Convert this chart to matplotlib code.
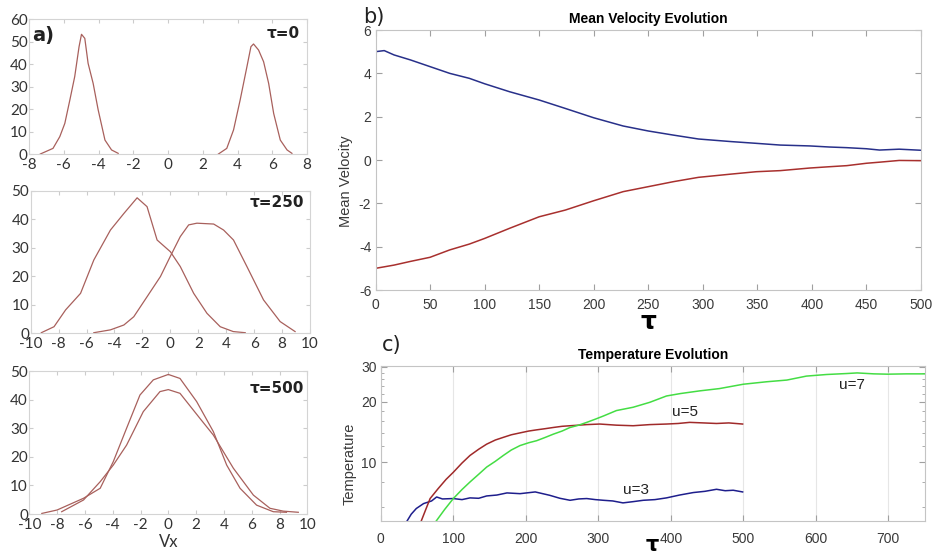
import matplotlib
matplotlib.use("Agg")
import matplotlib.pyplot as plt
import numpy as np
from matplotlib.ticker import FixedLocator, NullFormatter

plt.rcParams['axes.unicode_minus'] = False

# ---- panel a: velocity distributions ----
a1_left_x = [-7.35, -6.62, -6.23, -5.94, -5.65, -5.37, -5.12, -4.98, -4.79, -4.6, -4.31, -4.02, -3.63, -3.25, -2.87]
a1_left_y = [0, 2.5, 7.7, 13.6, 24, 34.4, 47.7, 53.2, 51.4, 40.3, 31.4, 19.6, 6.2, 1.8, 0.3]
a1_right_x = [2.9, 3.38, 3.77, 4.15, 4.54, 4.77, 4.92, 5.21, 5.5, 5.79, 6.08, 6.46, 6.85, 7.13]
a1_right_y = [0, 2.5, 10.7, 24, 38.8, 47.7, 48.9, 46.2, 41, 31.4, 18, 6.2, 1.8, 0.3]

a2_left_x = [-9.24, -8.33, -7.5, -6.43, -5.48, -4.29, -3.33, -2.38, -1.67, -0.95, 0, 0.71, 1.67, 2.62, 3.57, 4.5, 5.36]
a2_left_y = [0.2, 2.3, 8.2, 14, 25.7, 36.2, 42, 47.5, 44.4, 32.7, 28.6, 23.4, 14, 7, 2.3, 0.6, 0.2]
a2_right_x = [-5.48, -4.29, -3.33, -2.62, -1.67, -0.71, 0, 0.71, 1.31, 1.9, 3.1, 3.81, 4.52, 5.48, 6.67, 7.86, 8.93]
a2_right_y = [0.2, 1.2, 2.9, 5.8, 12.8, 19.9, 27, 33.9, 38, 38.6, 38.3, 36.2, 32.7, 23.4, 11.7, 4.1, 0.6]

a3_up_x = [-9.1, -8.0, -6.1, -4.9, -3.96, -3.0, -2.04, -1.08, 0, 0.84, 2.04, 3.24, 4.2, 5.16, 6.35, 7.55, 8.5]
a3_up_y = [0.2, 1.4, 5.5, 9, 18.3, 30, 41.6, 46.9, 48.8, 47.4, 39.3, 28.8, 17.1, 9, 3.1, 0.8, 0.6]
a3_low_x = [-7.67, -6.1, -4.9, -3.96, -3.0, -1.8, -0.6, 0, 0.84, 2.28, 3.24, 4.68, 6.12, 7.31, 8.27, 9.35]
a3_low_y = [0.8, 4.9, 11.3, 17.1, 24.1, 35.8, 42.8, 43.5, 42.2, 33.4, 27.6, 16, 6.6, 2, 1, 0.6]

# ---- panel b: mean velocity ----
b_tau = [0, 8, 17, 32, 50, 68, 86, 100, 123, 150, 174, 200, 227, 250, 273, 296, 326, 349, 371, 398, 416, 432, 450, 462, 480, 500]
b_blue = [5.0, 5.05, 4.85, 4.62, 4.31, 4.0, 3.77, 3.52, 3.15, 2.77, 2.38, 1.95, 1.57, 1.34, 1.15, 0.97, 0.85, 0.77, 0.69, 0.65, 0.6, 0.57, 0.52, 0.46, 0.5, 0.45]
b_red = [-5.0, -4.93, -4.85, -4.68, -4.49, -4.15, -3.88, -3.62, -3.15, -2.62, -2.31, -1.88, -1.46, -1.23, -1.0, -0.8, -0.65, -0.54, -0.49, -0.37, -0.31, -0.26, -0.15, -0.1, -0.02, -0.03]

# ---- panel c: temperature ----
c3_tau = [35, 42, 49, 59, 70, 77, 85, 100, 112, 123, 135, 146, 160, 174, 192, 213, 233, 247, 261, 273,
          284, 296, 307, 320, 334, 348, 362, 378, 394, 412, 431, 447, 463, 475, 486, 499]
c3 = [5.0, 5.5, 5.87, 6.21, 6.4, 6.7, 6.55, 6.58, 6.5, 6.63, 6.6, 6.78, 6.85, 7.02, 6.96, 7.1, 6.83, 6.6, 6.45, 6.55,
      6.58, 6.5, 6.45, 6.4, 6.26, 6.35, 6.45, 6.5, 6.63, 6.85, 7.05, 7.15, 7.32, 7.2, 7.24, 7.1]
c5_tau = [55, 62, 68, 79, 90, 100, 112, 123, 135, 146, 158, 169, 180, 192, 204, 215, 227, 238, 250, 261,
          273, 284, 302, 325, 348, 371, 394, 410, 426, 445, 463, 480, 499]
c5 = [5.0, 5.8, 6.58, 7.37, 8.2, 8.9, 9.9, 10.8, 11.6, 12.3, 12.9, 13.3, 13.7, 14.0, 14.3, 14.5, 14.7, 14.9, 15.1, 15.2,
      15.3, 15.4, 15.5, 15.3, 15.2, 15.4, 15.5, 15.6, 15.8, 15.7, 15.6, 15.7, 15.5]
c7_tau = [75, 88, 100, 112, 123, 135, 146, 158, 169, 180, 192, 204, 215, 227, 238, 250, 261, 273, 284, 296,
          307, 325, 348, 371, 394, 413, 440, 467, 500, 532, 560, 587, 615, 642, 657, 680, 699, 725, 750]
c7 = [5.0, 5.8, 6.58, 7.3, 7.96, 8.7, 9.45, 10.1, 10.8, 11.5, 12.1, 12.5, 12.8, 13.3, 13.8, 14.3, 14.9, 15.3, 15.8, 16.4,
      17.0, 18.1, 18.8, 19.9, 21.4, 22.0, 22.7, 23.3, 24.5, 25.2, 25.7, 26.9, 27.4, 27.7, 27.9, 27.6, 27.5, 27.6, 27.6]

dist_col = '#a8605c'
frame_col = '#c4c4c4'
txt_col = '#333333'

fig = plt.figure(figsize=(9.33, 5.59), dpi=100)


def style_a(ax):
    for s in ax.spines.values():
        s.set_color('#d4d4d4')
        s.set_linewidth(0.8)
    ax.tick_params(direction='in', length=3, color='#cccccc', top=True, right=True,
                   labelsize=11, labelcolor=txt_col, pad=1)
    ax.tick_params(axis='x', pad=3)
    for lab in ax.get_xticklabels() + ax.get_yticklabels():
        lab.set_family('Lato')


a1 = fig.add_axes([0.0311, 0.7245, 0.298, 0.2415])
a1.plot(a1_left_x, a1_left_y, color=dist_col, lw=0.9)
a1.plot(a1_right_x, a1_right_y, color=dist_col, lw=0.9)
a1.set_xlim(-8, 8)
a1.set_ylim(0, 60)
a1.set_xticks(np.arange(-8, 9, 2))
a1.set_yticks(np.arange(0, 61, 10))
style_a(a1)
a1.text(0.975, 0.89, 'τ=0', transform=a1.transAxes, ha='right', va='center',
        fontsize=11, fontweight='bold', color='#222222')
fig.text(32 / 933, 1 - 35 / 559, 'a)', ha='left', va='center', fontsize=14,
         fontweight='bold', color='#222222')

a2 = fig.add_axes([0.0329, 0.4038, 0.2994, 0.2551])
a2.plot(a2_left_x, a2_left_y, color=dist_col, lw=0.9)
a2.plot(a2_right_x, a2_right_y, color=dist_col, lw=0.9)
a2.set_xlim(-10, 10)
a2.set_ylim(0, 50)
a2.set_xticks(np.arange(-10, 11, 2))
a2.set_yticks(np.arange(0, 51, 10))
style_a(a2)
a2.text(0.979, 0.914, 'τ=250', transform=a2.transAxes, ha='right', va='center',
        fontsize=11, fontweight='bold', color='#222222')

a3 = fig.add_axes([0.0314, 0.0805, 0.298, 0.2558])
a3.plot(a3_up_x, a3_up_y, color=dist_col, lw=0.9)
a3.plot(a3_low_x, a3_low_y, color=dist_col, lw=0.9)
a3.set_xlim(-10, 10)
a3.set_ylim(0, 50)
a3.set_xticks(np.arange(-10, 11, 2))
a3.set_yticks(np.arange(0, 51, 10))
style_a(a3)
a3.text(0.988, 0.881, 'τ=500', transform=a3.transAxes, ha='right', va='center',
        fontsize=11, fontweight='bold', color='#222222')
a3.set_xlabel('Vx', fontsize=12, family='Lato', color=txt_col, labelpad=1)


def style_m(ax, xpad):
    for s in ax.spines.values():
        s.set_color(frame_col)
        s.set_linewidth(0.8)
    ax.tick_params(direction='in', length=4, color='#a0a0a0', top=True, right=True,
                   labelsize=10, labelcolor='#3a3a3a', pad=3)
    ax.tick_params(axis='x', pad=xpad)
    for lab in ax.get_xticklabels() + ax.get_yticklabels():
        lab.set_family('Liberation Sans')


# panel b
b = fig.add_axes([375.5 / 933, 0.4812, 545.5 / 933, 0.4651])
b.plot(b_tau, b_blue, color='#28308a', lw=1.1)
b.plot(b_tau, b_red, color='#a8302e', lw=1.1)
b.set_xlim(0, 500)
b.set_ylim(-6, 6)
b.set_xticks(np.arange(0, 501, 50))
b.set_yticks(np.arange(-6, 7, 2))
style_m(b, 6)
b.set_title('Mean Velocity Evolution', fontsize=10, fontweight='bold',
            family='Liberation Sans', pad=5)
b.set_ylabel('Mean Velocity', fontsize=10.5, family='Liberation Sans', color='#3a3a3a')
b.yaxis.set_label_coords(-0.041, 0.42)
b.set_xlabel('τ', fontsize=18, fontweight='bold')
b.xaxis.set_label_coords(0.5, -0.077)
fig.text(363 / 933, 1 - 17 / 559, 'b)', ha='left', va='center', fontsize=15, color='#222222')

# panel c
c = fig.add_axes([380.8 / 933, 0.0685, 543.8 / 933, 0.2767])
c.set_yscale('log')
c.plot(c3_tau, c3, color='#1e1e8c', lw=1.1)
c.plot(c5_tau, c5, color='#a02a2a', lw=1.1)
c.plot(c7_tau, c7, color='#44dd44', lw=1.1)
c.set_xlim(0, 750)
c.set_ylim(5.1, 30.2)
c.set_xticks(np.arange(0, 751, 100))
c.yaxis.set_major_locator(FixedLocator([10, 20, 30]))
c.yaxis.set_minor_locator(FixedLocator([6, 8, 12, 14, 16, 18, 22, 24, 26, 28]))
c.yaxis.set_minor_formatter(NullFormatter())
c.set_yticklabels(['10', '20', '30'])
c.grid(True, axis='x', color='#e6e6e6', lw=0.8)
style_m(c, 8)
c.tick_params(which='minor', direction='in', length=2, color='#a0a0a0', right=True)
c.set_title('Temperature Evolution', fontsize=10, fontweight='bold',
            family='Liberation Sans', pad=5)
c.set_ylabel('Temperature', fontsize=10.5, family='Liberation Sans', color='#3a3a3a')
c.yaxis.set_label_coords(-0.044, 0.366)
c.set_xlabel('τ', fontsize=15, fontweight='bold')
c.xaxis.set_label_coords(0.5, -0.095)
c.text(420, 17.7, 'u=5', fontsize=11, family='Liberation Sans', ha='center', va='center', color='#222222')
c.text(352, 7.3, 'u=3', fontsize=11, family='Liberation Sans', ha='center', va='center', color='#222222')
c.text(650, 24.3, 'u=7', fontsize=11, family='Liberation Sans', ha='center', va='center', color='#222222')
fig.text(382 / 933, 1 - 345 / 559, 'c)', ha='left', va='center', fontsize=15, color='#222222')

fig.savefig('out.png', dpi=100)
